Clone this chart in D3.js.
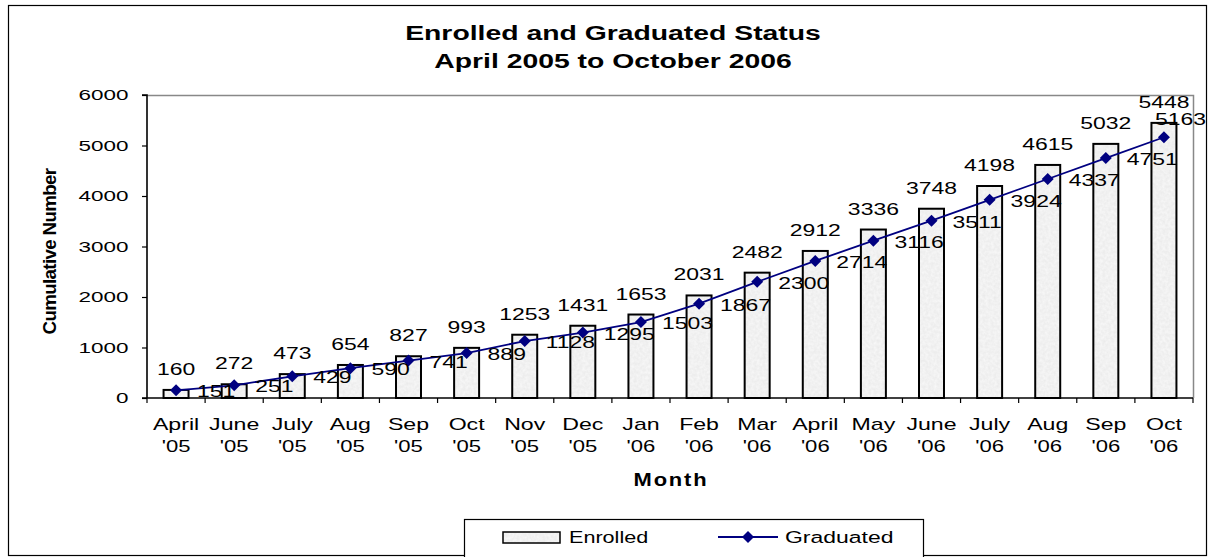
<!DOCTYPE html>
<html>
<head>
<meta charset="utf-8">
<script src="https://cdn.jsdelivr.net/npm/d3@7"></script>
<style>
  html, body { margin: 0; padding: 0; background: #fff; }
  svg { display: block; font-family: "Liberation Sans", Arial, sans-serif; }
</style>
</head>
<body>
<svg id="chart" width="1212" height="557"></svg>
<script>
const months = ["April|'05","June|'05","July|'05","Aug|'05","Sep|'05","Oct|'05","Nov|'05","Dec|'05","Jan|'06","Feb|'06","Mar|'06","April|'06","May|'06","June|'06","July|'06","Aug|'06","Sep|'06","Oct|'06"];
const enrolled = [160,272,473,654,827,993,1253,1431,1653,2031,2482,2912,3336,3748,4198,4615,5032,5448];
const graduated = [151,251,429,590,741,889,1128,1295,1503,1867,2300,2714,3116,3511,3924,4337,4751,5163];
const yTicks = [0,1000,2000,3000,4000,5000,6000];
const titleLines = ["Enrolled and Graduated Status", "April 2005 to October 2006"];

const svg = d3.select("#chart");
const plot = {left: 147, right: 1193, top: 95, bottom: 398};
const K = 1.35; // horizontal stretch of the reference's text rendering

// texture filter for bars
const defs = svg.append("defs");
const f = defs.append("filter").attr("id","stipple").attr("x",0).attr("y",0).attr("width",1).attr("height",1);
f.append("feTurbulence").attr("type","fractalNoise").attr("baseFrequency",0.35).attr("numOctaves",2).attr("seed",3).attr("result","noise");
f.append("feColorMatrix").attr("in","noise").attr("type","matrix")
  .attr("values","0 0 0 0.14 0.81  0 0 0 0.14 0.81  0 0 0 0.14 0.81  0 0 0 0 1").attr("result","tex");
f.append("feComposite").attr("in","tex").attr("in2","SourceGraphic").attr("operator","in");

function txt(g, x, y, str, size, opts = {}) {
  const k = opts.k || K;
  return g.append("text")
    .attr("transform", `translate(${x},${y}) scale(${k},1)`)
    .attr("text-anchor", opts.anchor || "start")
    .attr("font-size", size)
    .attr("font-weight", opts.bold ? "bold" : "normal")
    .attr("fill", "#000")
    .text(str);
}

// outer border
svg.append("rect").attr("x",8.5).attr("y",5.5).attr("width",1198).attr("height",550)
  .attr("fill","#fff").attr("stroke","#000").attr("stroke-width",1.2);

// title
txt(svg, 613, 40, titleLines[0], 21, {anchor:"middle", bold:true});
txt(svg, 613, 68, titleLines[1], 21, {anchor:"middle", bold:true});

const x = d3.scaleBand().domain(months).range([plot.left, plot.right]).paddingInner(0.57).paddingOuter(0.285);
const xb = d3.scaleBand().domain(months).range([plot.left, plot.right]);
const y = d3.scaleLinear().domain([0,6000]).range([plot.bottom, plot.top]);

// plot area border (top/right gray)
svg.append("path")
  .attr("d", `M${plot.left},${plot.top+0.5}H${plot.right+0.5}V${plot.bottom}`)
  .attr("fill","none").attr("stroke","#888").attr("stroke-width",1.5);

// bars
const bars = svg.append("g");
bars.selectAll("rect.fill").data(enrolled).join("rect").attr("class","fill")
  .attr("x",(d,i)=>x(months[i])).attr("y",d=>y(d))
  .attr("width",x.bandwidth()).attr("height",d=>y(0)-y(d))
  .attr("fill","#eee").attr("filter","url(#stipple)");
bars.selectAll("rect.out").data(enrolled).join("rect").attr("class","out")
  .attr("x",(d,i)=>x(months[i])).attr("y",d=>y(d))
  .attr("width",x.bandwidth()).attr("height",d=>y(0)-y(d))
  .attr("fill","none").attr("stroke","#000").attr("stroke-width",2);

// y axis
const yk = 1.45;
const yAxis = svg.append("g").attr("transform",`translate(${plot.left},0)`)
  .call(d3.axisLeft(y).tickValues(yTicks).tickSize(5).tickPadding(13).tickFormat(d3.format("d")));
yAxis.select(".domain").attr("stroke","#000").attr("stroke-width",1.6).attr("d",`M-5,${plot.top}H0V${plot.bottom}`);
yAxis.selectAll(".tick line").attr("stroke","#000").attr("stroke-width",1.2).attr("x1",-5).attr("x2",0);
yAxis.selectAll("text").attr("font-size",15.5).attr("fill","#000")
  .attr("font-family","Liberation Sans, Arial, sans-serif")
  .attr("x",-18.5/yk).attr("transform",`scale(${yk},1)`);

// x axis
const xAxisG = svg.append("g").attr("transform",`translate(0,${plot.bottom})`);
xAxisG.append("line").attr("x1",plot.left-5).attr("x2",plot.right).attr("stroke","#000").attr("stroke-width",1.6);
const bounds = months.map(m=>xb(m)).concat([plot.right]);
xAxisG.selectAll("line.tk").data(bounds).join("line").attr("class","tk")
  .attr("x1",d=>d).attr("x2",d=>d).attr("y1",0).attr("y2",5).attr("stroke","#000").attr("stroke-width",1.2);
const cx = i => xb(months[i]) + xb.bandwidth()/2;
months.forEach((m,i) => {
  const [a,b] = m.split("|");
  txt(xAxisG, cx(i), 32, a, 17, {anchor:"middle", k:1.36});
  txt(xAxisG, cx(i), 54, b, 17, {anchor:"middle", k:1.3});
});

// axis titles
txt(svg, 671, 486, "Month", 18, {anchor:"middle", bold:true, k:1.22}).attr("letter-spacing",1.5);
svg.append("text").attr("transform","translate(56,251.5) rotate(-90)").attr("text-anchor","middle")
  .attr("font-size",18).attr("font-weight","bold").attr("letter-spacing",-0.6)
  .attr("textLength",166).attr("lengthAdjust","spacingAndGlyphs").text("Cumulative Number");

// line
const line = d3.line().x((d,i)=>cx(i)).y(d=>y(d));
svg.append("path").datum(graduated).attr("d",line).attr("fill","none").attr("stroke","#000080").attr("stroke-width",1.8);
svg.append("g").selectAll("path").data(graduated).join("path")
  .attr("d", d3.symbol().type(d3.symbolSquare).size(72))
  .attr("transform",(d,i)=>`translate(${cx(i)},${y(d)}) rotate(45)`)
  .attr("fill","#000080");

// labels
const gl = svg.append("g");
enrolled.forEach((d,i) => txt(gl, cx(i), y(d)-15, d, 17, {anchor:"middle"}));
graduated.forEach((d,i) => {
  const w = String(d).length * 0.556 * 17 * K;
  let lx = cx(i) + 21, ly = y(d) + 7;
  if (lx + w > 1206) { lx = 1206 - w; ly = y(d) - 12; }
  txt(gl, lx, ly, d, 17);
});

// legend
svg.append("rect").attr("x",464.5).attr("y",519.5).attr("width",459).attr("height",40)
  .attr("fill","#fff").attr("stroke","#000").attr("stroke-width",1.2);
svg.append("rect").attr("x",503).attr("y",532).attr("width",57).attr("height",11).attr("fill","#eee").attr("filter","url(#stipple)");
svg.append("rect").attr("x",503).attr("y",532).attr("width",57).attr("height",11).attr("fill","none").attr("stroke","#000").attr("stroke-width",1.5);
txt(svg, 569, 543, "Enrolled", 17, {k:1.27});
svg.append("line").attr("x1",718).attr("x2",778).attr("y1",537).attr("y2",537).attr("stroke","#000080").attr("stroke-width",1.8);
svg.append("path").attr("d", d3.symbol().type(d3.symbolSquare).size(72)).attr("transform","translate(748,537) rotate(45)").attr("fill","#000080");
txt(svg, 785, 543, "Graduated", 17, {k:1.35});
</script>
</body>
</html>
